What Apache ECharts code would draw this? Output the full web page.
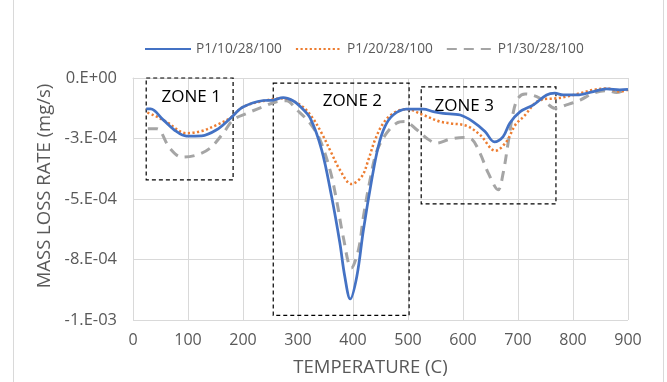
<!DOCTYPE html>
<html><head><meta charset="utf-8">
<script src="https://cdn.jsdelivr.net/npm/echarts@6/dist/echarts.min.js"></script>
<style>html,body{margin:0;padding:0;background:#fff}#c{width:667px;height:382px}</style>
</head><body><div id="c"></div>
<script>
const seriesNames = ['P1/10/28/100', 'P1/20/28/100', 'P1/30/28/100'];
const yTickLabels = ['0.E+00', '-3.E-04', '-5.E-04', '-8.E-04', '-1.E-03'];
const xTicks = [0, 100, 200, 300, 400, 500, 600, 700, 800, 900];
const xTitle = 'TEMPERATURE (C)';
const yTitle = 'MASS LOSS RATE (mg/s)';

const p1_10_temp = [24,32,55,79,97,125,152,176,200,237,255,273,291,304,322,343,361,376,385,395,407,419,434,446,458,473,497,528,546,564,595,618,640,657,673,685,704,728,752,767,782,807,837,861,885,900];
const p1_10_rate = [-1.28e-4,-1.28e-4,-1.73e-4,-2.21e-4,-2.40e-4,-2.39e-4,-2.14e-4,-1.69e-4,-1.20e-4,-0.93e-4,-0.91e-4,-0.81e-4,-0.94e-4,-1.18e-4,-1.65e-4,-2.97e-4,-4.89e-4,-6.80e-4,-8.19e-4,-9.13e-4,-8.19e-4,-6.27e-4,-4.21e-4,-2.83e-4,-2.01e-4,-1.53e-4,-1.29e-4,-1.29e-4,-1.39e-4,-1.46e-4,-1.53e-4,-1.80e-4,-2.21e-4,-2.64e-4,-2.42e-4,-1.87e-4,-1.39e-4,-1.11e-4,-0.70e-4,-0.63e-4,-0.70e-4,-0.70e-4,-0.56e-4,-0.45e-4,-0.49e-4,-0.47e-4];

const p1_20_temp = [26,37,60,97,125,152,176,200,237,273,304,325,343,361,376,397,416,428,440,455,473,497,528,558,576,607,631,659,679,695,710,740,770,788,813,837,861,885,900];
const p1_20_rate = [-1.43e-4,-1.53e-4,-1.80e-4,-2.28e-4,-2.19e-4,-1.94e-4,-1.66e-4,-1.20e-4,-0.95e-4,-0.84e-4,-1.11e-4,-1.60e-4,-2.28e-4,-3.11e-4,-3.79e-4,-4.38e-4,-4.07e-4,-3.38e-4,-2.56e-4,-1.87e-4,-1.46e-4,-1.29e-4,-1.53e-4,-1.80e-4,-1.87e-4,-1.98e-4,-2.35e-4,-3.01e-4,-2.63e-4,-1.94e-4,-1.60e-4,-0.91e-4,-0.84e-4,-0.77e-4,-0.63e-4,-0.49e-4,-0.43e-4,-0.56e-4,-0.49e-4];

const p1_30_temp = [27,43,67,89,116,140,164,182,207,237,261,279,298,322,340,358,370,382,397,410,419,431,443,461,479,494,516,534,552,576,601,616,631,646,664,673,682,691,700,713,734,752,767,788,813,837,861,879,900];
const p1_30_rate = [-2.10e-4,-2.10e-4,-2.90e-4,-3.27e-4,-3.18e-4,-2.90e-4,-2.28e-4,-1.73e-4,-1.46e-4,-1.18e-4,-0.98e-4,-0.94e-4,-1.32e-4,-1.87e-4,-2.56e-4,-3.79e-4,-5.03e-4,-6.54e-4,-7.85e-4,-7.09e-4,-5.72e-4,-4.21e-4,-3.04e-4,-2.28e-4,-1.87e-4,-1.80e-4,-2.14e-4,-2.49e-4,-2.69e-4,-2.53e-4,-2.46e-4,-2.53e-4,-3.11e-4,-3.93e-4,-4.62e-4,-3.93e-4,-2.69e-4,-1.46e-4,-0.84e-4,-0.66e-4,-0.77e-4,-1.04e-4,-1.25e-4,-1.11e-4,-0.91e-4,-0.63e-4,-0.52e-4,-0.60e-4,-0.43e-4];

// Zone annotation boxes
const zoneNames = ['ZONE 1', 'ZONE 2', 'ZONE 3'];
const zoneTempStart = [24, 255, 524];
const zoneTempEnd = [182, 502, 769];
const zoneRateTop = [0.08e-4, -0.21e-4, -0.37e-4];
const zoneRateBottom = [-4.21e-4, -9.81e-4, -5.20e-4];

const zip = (a, b) => a.map((v, i) => [v, b[i]]);
const FONT = '"Open Sans", sans-serif';
const labelPos = [[16, 20], [50, 19], [14, 20]];

const chart = echarts.init(document.getElementById('c'), null, {renderer: 'canvas'});
chart.setOption({
  animation: false,
  backgroundColor: '#fff',
  graphic: [
    {type: 'line', shape: {x1: 13.5, y1: 0, x2: 13.5, y2: 382}, style: {stroke: '#d9d9d9', lineWidth: 1}},
    {type: 'line', shape: {x1: 663.5, y1: 0, x2: 663.5, y2: 382}, style: {stroke: '#d9d9d9', lineWidth: 1}},
    {type: 'text', x: 45, y: 186, rotation: Math.PI / 2,
     style: {text: yTitle, fill: '#595959', font: '18.5px "Open Sans", sans-serif', align: 'center', verticalAlign: 'middle'}}
  ],
  legend: {
    data: seriesNames,
    left: 139, top: 37,
    itemWidth: 46, itemHeight: 4, itemGap: 13,
    itemStyle: {opacity: 0},
    textStyle: {color: '#595959', fontSize: 13.7, fontFamily: FONT}
  },
  grid: {left: 133, right: 39, top: 78, bottom: 61.5, containLabel: false},
  xAxis: {
    type: 'value', min: 0, max: 900, interval: 100,
    name: xTitle, nameLocation: 'middle', nameGap: 38,
    nameTextStyle: {color: '#595959', fontSize: 18.5, fontFamily: FONT, padding: [0, 20, 0, 0]},
    axisLine: {lineStyle: {color: '#d9d9d9'}},
    axisTick: {show: false},
    axisLabel: {color: '#595959', fontSize: 16, fontFamily: FONT, margin: 12,
      formatter: v => String(xTicks[Math.round(v / 100)])},
    splitLine: {show: true, lineStyle: {color: '#d9d9d9', width: 1}}
  },
  yAxis: {
    type: 'value', min: -0.001, max: 0, interval: 0.00025,
    axisLine: {show: true, lineStyle: {color: '#d9d9d9'}},
    axisTick: {show: false},
    axisLabel: {color: '#595959', fontSize: 16.5, fontFamily: FONT, margin: 16,
      formatter: v => yTickLabels[Math.round(-v / 0.00025)]},
    splitLine: {show: true, lineStyle: {color: '#d9d9d9', width: 1}}
  },
  series: [
    {
      name: seriesNames[0], type: 'line', data: zip(p1_10_temp, p1_10_rate),
      showSymbol: false, symbol: 'none', smooth: 0.35, clip: false, z: 5,
      lineStyle: {color: '#4472C4', width: 2.75, type: 'solid'},
      itemStyle: {color: '#4472C4'},
      markArea: {
        silent: true,
        itemStyle: {color: 'rgba(0,0,0,0)', borderColor: '#000', borderWidth: 1.2, borderType: [4, 3]},
        label: {color: '#000', fontSize: 17, fontFamily: FONT},
        data: zoneNames.map((n, i) => [
          {name: n, xAxis: zoneTempStart[i], yAxis: zoneRateTop[i],
           label: {position: labelPos[i], align: 'left', verticalAlign: 'middle'}},
          {xAxis: zoneTempEnd[i], yAxis: zoneRateBottom[i]}
        ])
      }
    },
    {
      name: seriesNames[1], type: 'line', data: zip(p1_20_temp, p1_20_rate),
      showSymbol: false, symbol: 'none', smooth: 0.35, clip: false, z: 4,
      lineStyle: {color: '#ED7D31', width: 2.5, type: [2.2, 2.4]},
      itemStyle: {color: '#ED7D31'}
    },
    {
      name: seriesNames[2], type: 'line', data: zip(p1_30_temp, p1_30_rate),
      showSymbol: false, symbol: 'none', smooth: 0.35, clip: false, z: 3,
      lineStyle: {color: '#A5A5A5', width: 3, type: [10, 7]},
      itemStyle: {color: '#A5A5A5'}
    }
  ]
});
</script></body></html>
